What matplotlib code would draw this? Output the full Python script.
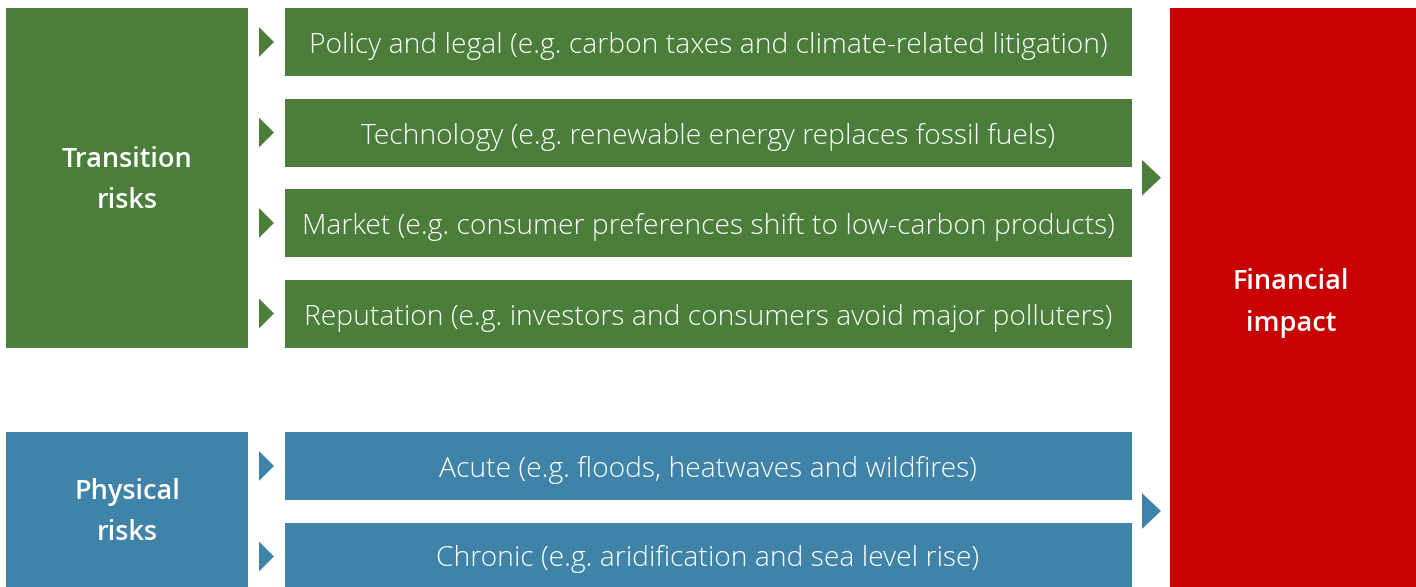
import matplotlib.pyplot as plt
from matplotlib.patches import Rectangle, Polygon

plt.rcParams['font.family'] = ['Open Sans', 'DejaVu Sans']

groups = ['Transition\nrisks', 'Physical\nrisks']
group_colors = ['#4a7e3a', '#3f84a8']
items = [
    ['Policy and legal (e.g. carbon taxes and climate-related litigation)',
     'Technology (e.g. renewable energy replaces fossil fuels)',
     'Market (e.g. consumer preferences shift to low-carbon products)',
     'Reputation (e.g. investors and consumers avoid major polluters)'],
    ['Acute (e.g. floods, heatwaves and wildfires)',
     'Chronic (e.g. aridification and sea level rise)'],
]
outcome = 'Financial\nimpact'
outcome_color = '#c80000'

# layout in pixels
group_top = [8, 432]
row_h, row_gap = 68, 22.5

fig = plt.figure(figsize=(14.16, 5.87), dpi=100)
ax = fig.add_axes([0, 0, 1, 1])
ax.set_xlim(0, 1416)
ax.set_ylim(587, 0)
ax.axis('off')

for g, label in enumerate(groups):
    c = group_colors[g]
    top = group_top[g]
    n = len(items[g])
    bottom = min(top + n * row_h + (n - 1) * row_gap, 587)
    ax.add_patch(Rectangle((6, top), 242, bottom - top, color=c, lw=0))
    ax.text(127, (top + bottom) / 2 + 3, label, color='white', ha='center', va='center',
            fontsize=19.5, fontweight='semibold', linespacing=1.62)
    for i, txt in enumerate(items[g]):
        y0 = top + i * (row_h + row_gap)
        y1 = min(y0 + row_h, 587)
        ax.add_patch(Rectangle((285, y0), 847, y1 - y0, color=c, lw=0))
        yc = y0 + row_h / 2
        ax.add_patch(Polygon([(259, yc - 15), (274, yc), (259, yc + 15)], color=c, lw=0))
        ax.text(708, (y0 + y1) / 2 + 4, txt, color='white', ha='center', va='center',
                fontsize=20.3, fontweight='light')
    ym = (top + bottom) / 2
    if g == 1:
        ym = 511
    ax.add_patch(Polygon([(1142, ym - 18), (1161, ym), (1142, ym + 18)], color=c, lw=0))

ax.add_patch(Rectangle((1170, 8), 246, 579, color=outcome_color, lw=0))
ax.text(1291, 303, outcome, color='white', ha='center', va='center',
        fontsize=19.5, fontweight='semibold', linespacing=1.62)

fig.savefig('out.png', dpi=100)
